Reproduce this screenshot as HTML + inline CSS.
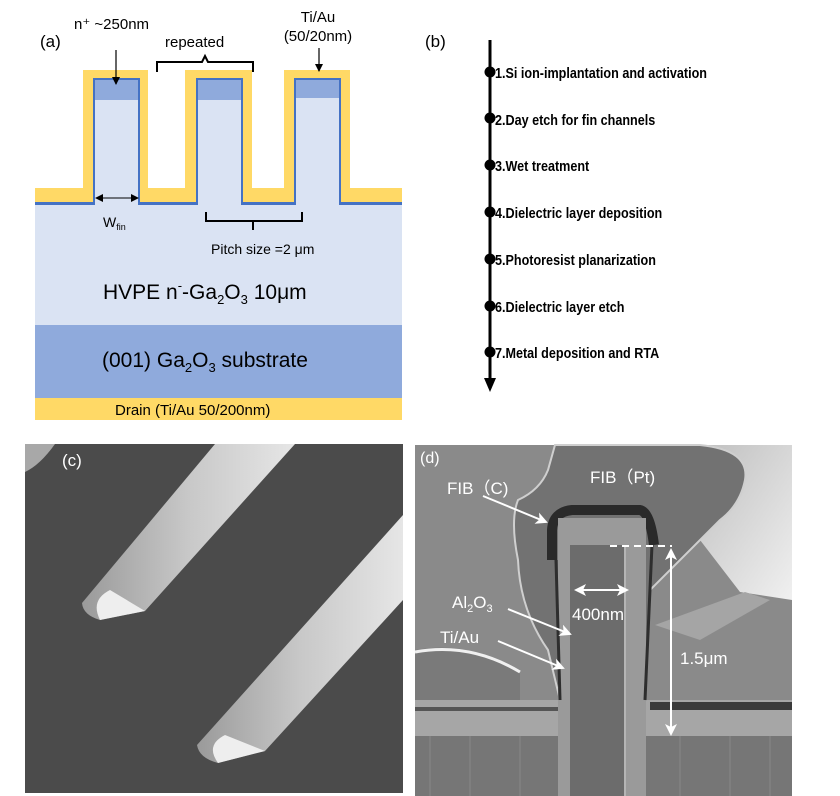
<!DOCTYPE html>
<html><head><meta charset="utf-8"><style>
html,body{margin:0;padding:0;background:#fff;}
svg{display:block;}
text{font-family:"Liberation Sans","DejaVu Sans",sans-serif;}
</style></head><body>
<svg width="840" height="796" viewBox="0 0 840 796" xmlns="http://www.w3.org/2000/svg">
<defs>
<marker id="ab" markerWidth="8" markerHeight="8" refX="7" refY="4" orient="auto" markerUnits="userSpaceOnUse"><path d="M0,0 L8,4 L0,8 z" fill="#000"/></marker>
<marker id="aw" markerWidth="12" markerHeight="12" refX="10" refY="6" orient="auto" markerUnits="userSpaceOnUse"><path d="M0,0 L12,6 L0,12 L3,6 z" fill="#fff"/></marker>
<linearGradient id="fin" x1="0" y1="0" x2="1" y2="0"><stop offset="0" stop-color="#9a9a9a"/><stop offset="0.5" stop-color="#c8c8c8"/><stop offset="1" stop-color="#e6e6e6"/></linearGradient>
<linearGradient id="rl" x1="0" y1="0" x2="1" y2="1"><stop offset="0" stop-color="#bdbdbd"/><stop offset="1" stop-color="#f0f0f0"/></linearGradient>
</defs>

<!-- Panel (a) -->
<text x="40" y="47" font-size="17">(a)</text>
<rect x="35" y="202" width="367" height="123" fill="#dae3f3"/>
<rect x="35" y="325" width="367" height="73" fill="#8faadc"/>
<rect x="35" y="398" width="367" height="22" fill="#ffd966"/>
<path d="M35,188 H83 V70 H148 V188 H185 V70 H252 V188 H284 V70 H350 V188 H402 V202 H35 Z" fill="#ffd966"/>
<path d="M35,202 H93 V78 H140 V202 H196 V78 H243 V202 H294 V78 H341 V202 H402 V205 H35 Z" fill="#4472c4"/>
<rect x="95" y="80" width="43" height="125" fill="#dae3f3"/>
<rect x="198" y="80" width="43" height="125" fill="#dae3f3"/>
<rect x="296" y="80" width="43" height="125" fill="#dae3f3"/>
<rect x="95" y="80" width="43" height="20" fill="#8faadc"/>
<rect x="198" y="80" width="43" height="20" fill="#8faadc"/>
<rect x="296" y="80" width="43" height="18" fill="#8faadc"/>
<text x="74" y="29" font-size="15">n⁺ ~250nm</text>
<line x1="116" y1="50" x2="116" y2="84" stroke="#000" stroke-width="1.2" marker-end="url(#ab)"/>
<text x="165" y="47" font-size="15">repeated</text>
<path d="M157,72 V62 H202 L205,56 L208,62 H253 V72" fill="none" stroke="#000" stroke-width="2"/>
<text x="318" y="22" font-size="15" text-anchor="middle">Ti/Au</text>
<text x="318" y="41" font-size="15" text-anchor="middle">(50/20nm)</text>
<line x1="319" y1="48" x2="319" y2="71" stroke="#000" stroke-width="1.2" marker-end="url(#ab)"/>
<line x1="96" y1="198" x2="138" y2="198" stroke="#000" stroke-width="1" marker-end="url(#ab)"/>
<line x1="136" y1="198" x2="96" y2="198" stroke="#000" stroke-width="1" marker-end="url(#ab)"/>
<text x="103" y="227" font-size="14">W<tspan font-size="9" dy="3">fin</tspan></text>
<path d="M206,212 V221 H253 V230 M253,221 H302 V212" fill="none" stroke="#000" stroke-width="2"/>
<text x="211" y="254" font-size="14">Pitch size =2 μm</text>
<text x="103" y="299" font-size="21">HVPE n<tspan font-size="13" dy="-9">-</tspan><tspan dy="9">-Ga</tspan><tspan font-size="13" dy="5">2</tspan><tspan dy="-5">O</tspan><tspan font-size="13" dy="5">3</tspan><tspan dy="-5"> 10μm</tspan></text>
<text x="102" y="367" font-size="21">(001)  Ga<tspan font-size="13" dy="5">2</tspan><tspan dy="-5">O</tspan><tspan font-size="13" dy="5">3</tspan><tspan dy="-5"> substrate</tspan></text>
<text x="115" y="415" font-size="15">Drain (Ti/Au 50/200nm)</text>

<!-- Panel (b) -->
<text x="425" y="47" font-size="17">(b)</text>
<line x1="490" y1="40" x2="490" y2="380" stroke="#000" stroke-width="3"/>
<path d="M484,378 L496,378 L490,392 Z" fill="#000"/>
<g fill="#000">
<circle cx="490" cy="72" r="5.5"/><circle cx="490" cy="118" r="5.5"/><circle cx="490" cy="165" r="5.5"/><circle cx="490" cy="212" r="5.5"/><circle cx="490" cy="259" r="5.5"/><circle cx="490" cy="306" r="5.5"/><circle cx="490" cy="352" r="5.5"/>
</g>
<g font-size="15" font-weight="bold" transform="translate(495,0) scale(0.84,1) translate(-495,0)">
<text x="495" y="78">1.Si ion-implantation and activation</text>
<text x="495" y="125">2.Day etch for fin channels</text>
<text x="495" y="171">3.Wet treatment</text>
<text x="495" y="218">4.Dielectric layer deposition</text>
<text x="495" y="265">5.Photoresist planarization</text>
<text x="495" y="312">6.Dielectric layer etch</text>
<text x="495" y="358">7.Metal deposition and RTA</text>
</g>

<!-- Panel (c) -->
<rect x="25" y="444" width="378" height="349" fill="#4b4b4b"/>
<path d="M25,444 H55 Q40,465 25,472 Z" fill="#a8a8a8"/>
<path d="M215,444 L295,444 L145,611 L100,620 Q83,615 82,603 Z" fill="url(#fin)"/>
<path d="M403,515 L403,600 L265,751 L218,763 Q199,758 197,745 Z" fill="url(#fin)"/>
<path d="M100,620 Q90,600 110,590 L145,611 Z" fill="#eeeeee"/>
<path d="M218,763 Q205,745 225,735 L265,751 Z" fill="#eeeeee"/>
<text x="62" y="466" font-size="17" fill="#fff">(c)</text>

<!-- Panel (d) -->
<rect x="415" y="445" width="377" height="351" fill="#8a8a8a"/>
<path d="M690,445 H792 V600 L740,592 L700,540 Z" fill="url(#rl)"/>
<path d="M655,625 L745,592 L770,600 L700,640 Z" fill="#a5a5a5"/>
<path d="M415,650 Q470,640 520,672 L520,700 L415,700 Z" fill="#7a7a7a"/>
<path d="M415,652 Q470,642 520,672" fill="none" stroke="#f0f0f0" stroke-width="3"/>
<rect x="415" y="700" width="377" height="36" fill="#a6a6a6"/>
<rect x="650" y="702" width="142" height="8" fill="#3a3a3a"/>
<rect x="415" y="707" width="145" height="4" fill="#555"/>
<rect x="415" y="736" width="377" height="60" fill="#767676"/>
<g stroke="#888" stroke-width="1"><line x1="430" y1="736" x2="430" y2="796"/><line x1="470" y1="736" x2="470" y2="796"/><line x1="520" y1="736" x2="520" y2="796"/><line x1="680" y1="736" x2="680" y2="796"/><line x1="730" y1="736" x2="730" y2="796"/><line x1="770" y1="736" x2="770" y2="796"/></g>
<path d="M555,445 H700 Q750,450 745,480 Q740,505 720,520 L650,590 L645,700 L560,700 L548,650 Q520,610 518,560 Q510,520 518,500 Q540,490 548,470 Z" fill="#727272" stroke="#cfcfcf" stroke-width="2"/>
<path d="M552,560 V530 Q553,512 572,510 H640 Q650,512 654,545" fill="none" stroke="#2a2a2a" stroke-width="10"/>
<rect x="558" y="518" width="88" height="278" fill="#9a9a9a"/>
<rect x="570" y="545" width="56" height="251" fill="#6c6c6c"/>
<line x1="625" y1="545" x2="625" y2="796" stroke="#b5b5b5" stroke-width="2"/>
<line x1="556" y1="560" x2="560" y2="700" stroke="#2e2e2e" stroke-width="3"/>
<line x1="652" y1="545" x2="645" y2="700" stroke="#2e2e2e" stroke-width="3"/>
<text x="420" y="463" font-size="16" fill="#fff">(d)</text>
<text x="590" y="483" font-size="17" fill="#fff">FIB（Pt)</text>
<text x="447" y="494" font-size="17" fill="#fff">FIB（C)</text>
<line x1="483" y1="496" x2="546" y2="522" stroke="#fff" stroke-width="2" marker-end="url(#aw)"/>
<text x="452" y="608" font-size="17" fill="#fff">Al<tspan font-size="11" dy="4">2</tspan><tspan dy="-4">O</tspan><tspan font-size="11" dy="4">3</tspan></text>
<line x1="508" y1="609" x2="570" y2="634" stroke="#fff" stroke-width="2" marker-end="url(#aw)"/>
<text x="440" y="643" font-size="17" fill="#fff">Ti/Au</text>
<line x1="498" y1="641" x2="563" y2="668" stroke="#fff" stroke-width="2" marker-end="url(#aw)"/>
<line x1="576" y1="590" x2="627" y2="590" stroke="#fff" stroke-width="2" marker-end="url(#aw)"/>
<line x1="627" y1="590" x2="576" y2="590" stroke="#fff" stroke-width="2" marker-end="url(#aw)"/>
<text x="572" y="620" font-size="17" fill="#fff">400nm</text>
<line x1="610" y1="546" x2="672" y2="546" stroke="#fff" stroke-width="2" stroke-dasharray="7,5"/>
<line x1="671" y1="550" x2="671" y2="734" stroke="#fff" stroke-width="2" marker-end="url(#aw)"/>
<line x1="671" y1="734" x2="671" y2="550" stroke="#fff" stroke-width="2" marker-end="url(#aw)"/>
<text x="680" y="664" font-size="17" fill="#fff">1.5μm</text>
</svg>
</body></html>
